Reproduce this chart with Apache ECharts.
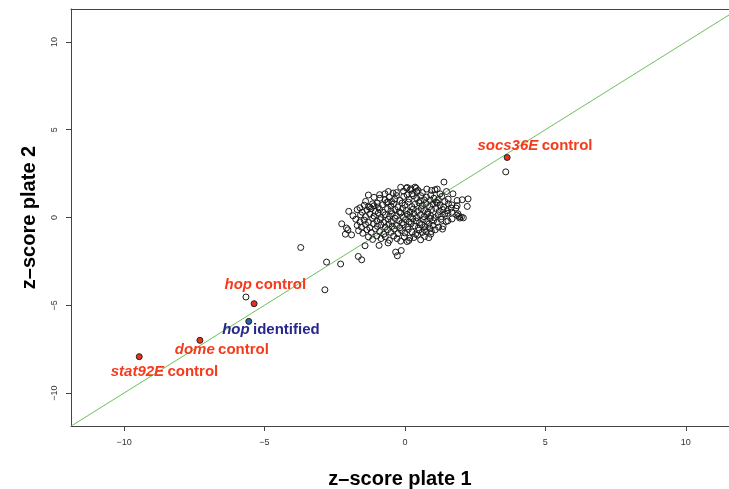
<!DOCTYPE html>
<html>
<head>
<meta charset="utf-8">
<script src="https://cdn.jsdelivr.net/npm/echarts@6/dist/echarts.min.js"></script>
<style>
  html, body { margin: 0; padding: 0; background: #ffffff; }
  #chart { width: 729px; height: 489px; }
</style>
</head>
<body>
<div id="chart"></div>
<script>
// Screen library: z-score on plate 1 vs z-score on plate 2, one pair per dsRNA
const libraryScores = [
  // upper edge of the cloud
  [-0.71,1.35],[-0.59,1.48],[-0.42,1.39],[-0.30,1.42],[0.06,1.67],[0.18,1.58],[0.36,1.73],[0.42,1.48],
  [0.47,1.54],[0.95,1.54],[1.07,1.58],[1.15,1.62],[1.48,1.48],[1.39,2.02],[1.71,1.35],[0.08,1.71],
  [0.22,1.63],[0.40,1.67],[-0.15,1.72],[-0.05,1.50],[0.25,1.35],[0.62,1.42],[0.78,1.62],[1.25,1.35],
  [-0.90,1.30],[-1.30,1.28],
  // y 0.8 .. 1.3
  [-1.25,0.59],[-1.10,0.67],[-0.99,0.82],[-0.89,1.10],[-0.71,1.01],[-0.56,1.16],[-0.47,0.91],[-0.36,1.05],
  [-0.18,0.97],[-0.04,1.20],[0.08,1.29],[0.30,1.24],[0.42,1.10],[0.56,1.24],[0.68,1.01],[0.77,1.16],
  [0.92,1.28],[1.03,1.10],[1.19,1.01],[1.31,1.20],[1.42,0.91],[1.54,1.05],[1.86,0.97],[2.04,1.01],
  [2.25,1.06],[-1.10,1.15],[-0.30,1.25],[0.15,1.05],[0.55,0.95],[1.15,0.82],[-1.40,0.92],[-0.60,0.88],
  [0.90,0.98],
  // y 0.5 .. 0.9
  [-1.60,0.55],[-1.45,0.70],[-1.30,0.62],[-1.15,0.78],[-0.95,0.60],[-0.80,0.72],[-0.65,0.85],[-0.50,0.65],
  [-0.40,0.78],[-0.25,0.60],[-0.10,0.82],[0.00,0.70],[0.12,0.88],[0.25,0.62],[0.35,0.75],[0.50,0.85],
  [0.62,0.68],[0.75,0.80],[0.88,0.62],[1.00,0.75],[1.12,0.88],[1.25,0.70],[1.38,0.60],[1.55,0.78],
  [1.67,0.72],[1.86,0.67],[2.22,0.63],[1.82,0.54],[1.65,0.54],
  // y 0.3 .. 0.55
  [-2.00,0.35],[-1.70,0.45],[-1.52,0.30],[-1.35,0.42],[-1.20,0.50],[-1.05,0.35],[-0.90,0.45],[-0.78,0.30],
  [-0.62,0.50],[-0.50,0.38],[-0.35,0.45],[-0.20,0.32],[-0.08,0.52],[0.05,0.40],[0.18,0.30],[0.30,0.48],
  [0.45,0.35],[0.58,0.50],[0.70,0.40],[0.82,0.30],[0.95,0.45],[1.10,0.52],[1.22,0.35],[1.35,0.45],
  [1.50,0.38],[1.53,0.24],[1.67,0.30],
  // y 0 .. 0.3
  [-1.58,0.15],[-1.85,0.10],[-1.40,0.05],[-1.25,0.20],[-1.10,0.08],[-0.95,0.25],[-0.85,0.00],[-0.70,0.15],
  [-0.55,0.05],[-0.45,0.22],[-0.30,0.10],[-0.15,0.25],[-0.05,0.02],[0.08,0.18],[0.20,0.05],[0.32,0.22],
  [0.42,0.00],[0.55,0.15],[0.68,0.05],[0.80,0.20],[0.92,0.10],[1.05,0.00],[1.18,0.15],[1.30,0.05],
  [1.42,0.20],[1.89,0.21],[1.92,0.06],[1.85,0.13],[2.01,0.02],[2.08,-0.02],[1.95,-0.03],
  // y -0.3 .. 0
  [-2.25,-0.36],[-1.75,-0.10],[-1.60,-0.25],[-1.45,-0.15],[-1.30,-0.28],[-1.15,-0.05],[-1.00,-0.20],[-0.88,-0.12],
  [-0.75,-0.28],[-0.60,-0.10],[-0.48,-0.22],[-0.35,-0.05],[-0.22,-0.18],[-0.10,-0.30],[0.02,-0.12],[0.15,-0.25],
  [0.28,-0.08],[0.40,-0.20],[0.52,-0.30],[0.65,-0.12],[0.78,-0.22],[0.90,-0.05],[1.02,-0.18],[1.15,-0.28],
  [1.28,-0.10],[1.47,-0.23],[1.53,-0.19],[1.68,-0.08],
  // y -0.6 .. -0.3
  [-2.08,-0.60],[-2.03,-0.70],[-1.70,-0.45],[-1.55,-0.55],[-1.40,-0.40],[-1.25,-0.58],[-1.12,-0.35],[-0.98,-0.50],
  [-0.85,-0.42],[-0.70,-0.55],[-0.58,-0.38],[-0.45,-0.50],[-0.30,-0.45],[-0.18,-0.58],[-0.05,-0.40],[0.10,-0.52],
  [0.22,-0.35],[0.35,-0.48],[0.48,-0.58],[0.60,-0.40],[0.72,-0.52],[0.85,-0.38],[0.88,-0.60],[1.00,-0.45],
  [1.36,-0.51],[1.34,-0.66],[1.20,-0.55],
  // y -1.0 .. -0.6
  [-2.12,-0.95],[-1.90,-0.99],[-1.65,-0.75],[-1.50,-0.90],[-1.35,-0.70],[-1.20,-0.85],[-1.05,-0.65],[-0.90,-0.80],
  [-0.75,-0.95],[-0.62,-0.70],[-0.50,-0.85],[-0.38,-0.65],[-0.25,-0.92],[-0.12,-0.75],[0.00,-0.88],[0.12,-0.68],
  [0.25,-0.82],[0.38,-0.95],[0.50,-0.72],[0.62,-0.85],[0.94,-0.80],[0.92,-0.95],[0.76,-0.80],[0.70,-0.70],
  [1.08,-0.70],
  // y -1.6 .. -1.0
  [-1.42,-1.61],[-0.92,-1.59],[-1.30,-1.10],[-1.15,-1.25],[-1.00,-1.05],[-0.85,-1.20],[-0.70,-1.10],[-0.55,-1.30],
  [-0.40,-1.05],[-0.28,-1.20],[-0.15,-1.35],[-0.02,-1.10],[0.08,-1.37],[0.14,-1.31],[0.17,-1.17],[0.32,-1.14],
  [0.56,-1.27],[0.70,-1.08],[0.45,-1.00],[-0.60,-1.45],[0.85,-1.15],
  // stragglers below and left of the cloud
  [-0.33,-1.97],[-0.27,-2.18],[-0.13,-1.88],[-1.66,-2.22],[-1.54,-2.41],[-2.29,-2.65],[-2.79,-2.54],
  [-2.85,-4.12],[-3.71,-1.71],
  // near the highlighted controls
  [3.59,2.60],[-5.66,-4.53]
];

// Highlighted controls and the identified hit
const controlGenes   = ['socs36E', 'hop', 'hop', 'dome', 'stat92E'];
const controlSuffix  = ['control', 'control', 'identified', 'control', 'control'];
const controlPlate1  = [3.64, -5.37, -5.56, -7.30, -9.46];
const controlPlate2  = [3.42, -4.91, -5.92, -7.00, -7.93];
const controlIsHit   = [false, false, true, false, false];

// Where each annotation is centred, in z-score units
const noteX = [4.63, -4.97, -4.77, -6.52, -8.56];
const noteY = [4.10, -3.83, -6.40, -7.53, -8.80];

// Tick labels on both axes
const tickValues = [-10, -5, 0, 5, 10];

// y = x reference line end points
const identityEnds = [-12, 12];

const RED = '#f63b1d';
const BLUE = '#27278c';
const FONT = '"Liberation Sans", Arial, Helvetica, sans-serif';
const AXIS_GREY = '#444';

const controlPoints = controlGenes.map((g, i) => ({
  value: [controlPlate1[i], controlPlate2[i]],
  itemStyle: { color: controlIsHit[i] ? '#2a62a8' : '#e8321e' }
}));

const notes = controlGenes.map((g, i) => ({
  value: [noteX[i], noteY[i]],
  gene: g,
  suffix: controlSuffix[i],
  hit: controlIsHit[i]
}));

const chart = echarts.init(document.getElementById('chart'), null, { renderer: 'canvas' });

const tickLabel = {
  customValues: tickValues, margin: 12, fontSize: 9, color: '#333', fontFamily: FONT,
  formatter: v => String(v).replace('-', '\u2212')
};
const titleStyle = { fontFamily: FONT, fontWeight: 'bold', fontSize: 20, color: '#000' };
const X_MIN = -11.89, X_MAX = 11.54;
const Y_MIN = -11.88, Y_MAX = 11.88;

chart.setOption({
  animation: false,
  backgroundColor: '#ffffff',
  grid: { left: 71, top: 9, right: 0, bottom: 63, show: false, containLabel: false, outerBoundsMode: 'none' },
  xAxis: [
    {
      type: 'value', min: X_MIN, max: X_MAX, position: 'bottom',
      splitLine: { show: false },
      axisLine: { show: true, onZero: false, lineStyle: { color: AXIS_GREY, width: 1 } },
      axisTick: { show: true, length: 5, customValues: tickValues, lineStyle: { color: AXIS_GREY } },
      axisLabel: tickLabel,
      name: 'z\u2013score plate 1', nameLocation: 'middle', nameGap: 43, nameTextStyle: titleStyle
    },
    {
      // top edge of the plot frame
      type: 'value', min: X_MIN, max: X_MAX, position: 'top',
      splitLine: { show: false },
      axisLine: { show: true, onZero: false, lineStyle: { color: AXIS_GREY, width: 1 } },
      axisTick: { show: false }, axisLabel: { show: false }
    }
  ],
  yAxis: {
    type: 'value', min: Y_MIN, max: Y_MAX,
    splitLine: { show: false },
    axisLine: { show: true, onZero: false, lineStyle: { color: AXIS_GREY, width: 1 } },
    axisTick: { show: true, length: 5, customValues: tickValues, lineStyle: { color: AXIS_GREY } },
    axisLabel: Object.assign({}, tickLabel, { rotate: 90 }),
    name: 'z\u2013score plate 2', nameLocation: 'middle', nameGap: 32, nameRotate: 90,
    nameTextStyle: titleStyle
  },
  series: [
    {
      type: 'line',
      data: identityEnds.map(v => [v, v]),
      symbol: 'none',
      clip: true,
      lineStyle: { color: '#6cbf5c', width: 1 },
      z: 1
    },
    {
      type: 'scatter',
      data: libraryScores,
      symbol: 'circle',
      symbolSize: 6,
      itemStyle: { color: 'rgba(0,0,0,0)', borderColor: '#1a1a1a', borderWidth: 1, opacity: 1 },
      z: 2
    },
    {
      type: 'scatter',
      data: controlPoints,
      symbol: 'circle',
      symbolSize: 6,
      itemStyle: { borderColor: '#222', borderWidth: 1, opacity: 1 },
      z: 3
    },
    {
      type: 'scatter',
      data: notes,
      symbolSize: 0,
      silent: true,
      itemStyle: { opacity: 1 },
      z: 4,
      label: {
        show: true,
        position: 'inside',
        formatter: p => (p.data.hit ? '{gh|' + p.data.gene + '} {sh|' + p.data.suffix + '}'
                                     : '{g|' + p.data.gene + '} {s|' + p.data.suffix + '}'),
        rich: {
          g:  { fontFamily: FONT, fontSize: 15, fontWeight: 'bold', fontStyle: 'italic', color: RED },
          s:  { fontFamily: FONT, fontSize: 15, fontWeight: 'bold', color: RED },
          gh: { fontFamily: FONT, fontSize: 15, fontWeight: 'bold', fontStyle: 'italic', color: BLUE },
          sh: { fontFamily: FONT, fontSize: 15, fontWeight: 'bold', color: BLUE }
        }
      }
    }
  ]
});
</script>
</body>
</html>
